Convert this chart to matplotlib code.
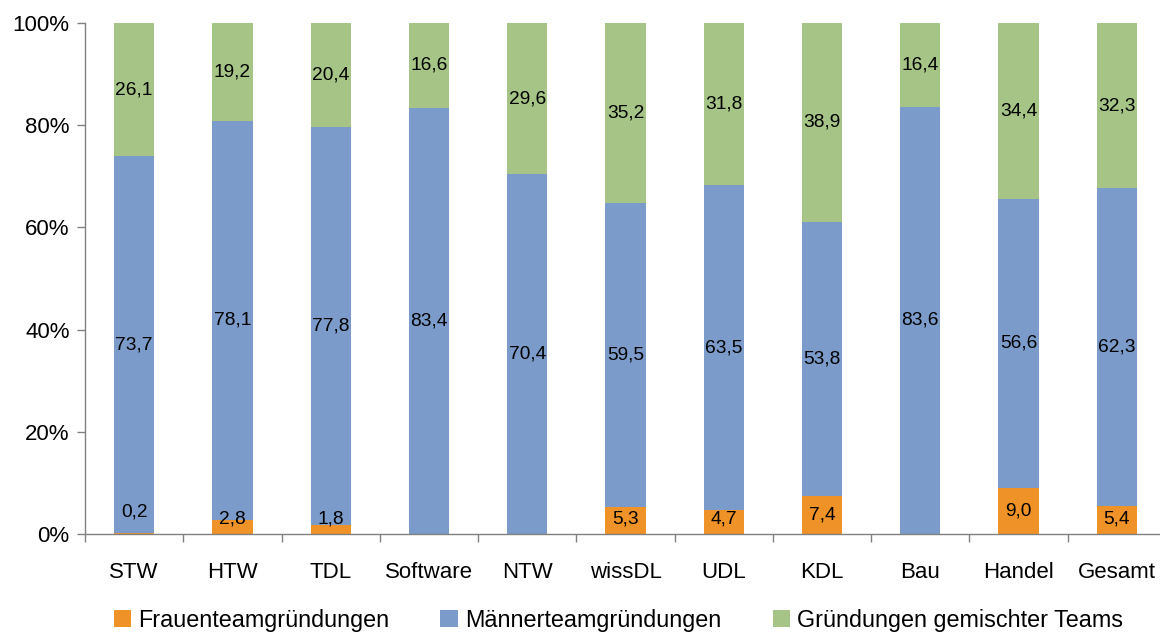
import matplotlib
matplotlib.use("Agg")
import matplotlib.pyplot as plt
import numpy as np
from matplotlib.patches import Patch
from matplotlib.ticker import FuncFormatter

plt.rcParams['font.family'] = ['Liberation Sans', 'DejaVu Sans']

categories = ["STW", "HTW", "TDL", "Software", "NTW", "wissDL", "UDL", "KDL", "Bau", "Handel", "Gesamt"]
frauen = [0.2, 2.8, 1.8, 0.0, 0.0, 5.3, 4.7, 7.4, 0.0, 9.0, 5.4]
maenner = [73.7, 78.1, 77.8, 83.4, 70.4, 59.5, 63.5, 53.8, 83.6, 56.6, 62.3]
gemischt = [26.1, 19.2, 20.4, 16.6, 29.6, 35.2, 31.8, 38.9, 16.4, 34.4, 32.3]
series_names = ["Frauenteamgründungen", "Männerteamgründungen", "Gründungen gemischter Teams"]
colors = ["#EF9227", "#7B9CCA", "#A5C486"]

data = np.array([frauen, maenner, gemischt])
# 100% stacking: each column normalised to its total
shares = data / data.sum(axis=0) * 100

fig = plt.figure(figsize=(11.6, 6.34), dpi=100)
ax = fig.add_axes([85 / 1160, 100 / 634, 1081 / 1160, 511 / 634])

x = np.arange(len(categories))
bottom = np.zeros(len(categories))
for i, (vals, col) in enumerate(zip(shares, colors)):
    ax.bar(x, vals, width=0.41, bottom=bottom, color=col, edgecolor='none', zorder=2)
    for xi, raw, b, v in zip(x, data[i], bottom, vals):
        if raw <= 0:
            continue
        y = b + v / 2
        if i == 0:
            # keep labels of thin segments clear of the axis line
            y = 4.4 if raw < 1 else max(y, 3.0)
        ax.text(xi, y, f"{raw:.1f}".replace(".", ","), ha='center', va='center',
                fontsize=13.8, color='black', zorder=3)
    bottom += vals

ax.set_xlim(-0.5, len(categories) - 0.5)
ax.set_ylim(0, 100)
ax.set_yticks(np.arange(0, 101, 20))
ax.yaxis.set_major_formatter(FuncFormatter(lambda v, p: f"{int(v)}%"))
ax.set_xticks(x)
ax.set_xticklabels(categories)
ax.set_xticks(np.arange(-0.5, len(categories), 1), minor=True)
ax.tick_params(axis='x', which='major', length=0, labelsize=16, pad=20)
ax.tick_params(axis='x', which='minor', length=6, width=1, color='#808080', direction='out')
ax.tick_params(axis='y', length=6, width=1, color='#808080', direction='out', labelsize=16, pad=5)

for side in ['top', 'right']:
    ax.spines[side].set_visible(False)
for side in ['left', 'bottom']:
    ax.spines[side].set_color('#808080')
    ax.spines[side].set_linewidth(1)

handles = [Patch(facecolor=c, edgecolor='none') for c in colors]
fig.legend(handles, series_names, loc='center', bbox_to_anchor=(0.533, 0.022), ncol=3,
           frameon=False, fontsize=16.8, handlelength=0.75, handleheight=0.75,
           handletextpad=0.3, columnspacing=2.2, borderaxespad=0)

fig.savefig("out.png", dpi=100)
